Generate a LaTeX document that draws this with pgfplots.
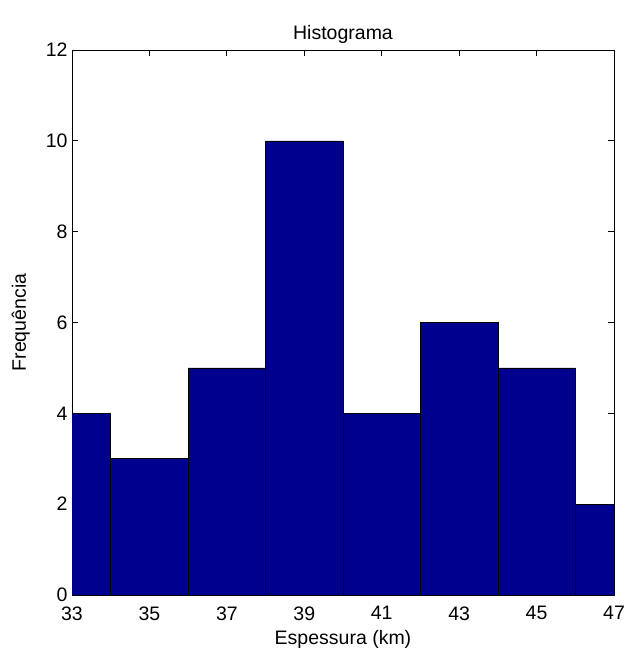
\documentclass[border=0pt]{standalone}
\usepackage{fontspec}
\setmainfont{Liberation Sans}
\usepackage{pgfplots}
\pgfplotsset{compat=1.18}
\definecolor{barblue}{HTML}{00008F}
\begin{document}
\begin{tikzpicture}[x=1pt,y=1pt]
\useasboundingbox (0,0) rectangle (625,653);
\begin{axis}[
  at={(72pt,58pt)}, anchor=south west,
  scale only axis, width=542pt, height=545pt,
  xmin=33, xmax=47, ymin=0, ymax=12,
  xtick={33,35,...,47}, ytick={0,2,...,12},
  tick align=inside, major tick length=6pt,
  xtick pos=both, ytick pos=both,
  axis line style={line width=0.8pt}, tick style={line width=0.8pt, black},
  /pgf/number format/assume math mode=true,
  every tick label/.append style={font=\fontsize{19.5}{21}\selectfont},
  every x tick label/.append style={yshift=-8pt},
  every y tick label/.append style={xshift=-1pt},
  label style={font=\fontsize{19.5}{21}\selectfont},
  title style={font=\fontsize{19.5}{21}\selectfont, yshift=-3pt},
  title={Histograma},
  xlabel={Espessura (km)}, ylabel={Frequência},
  xlabel style={yshift=-3pt}, ylabel shift=9pt,
]
\addplot[ybar, bar width=2, bar shift=0pt, fill=barblue, draw=black, line width=0.6pt] coordinates {
(33,4) (35,3) (37,5) (39,10) (41,4) (43,6) (45,5) (47,2)
};
\end{axis}
\end{tikzpicture}
\end{document}
